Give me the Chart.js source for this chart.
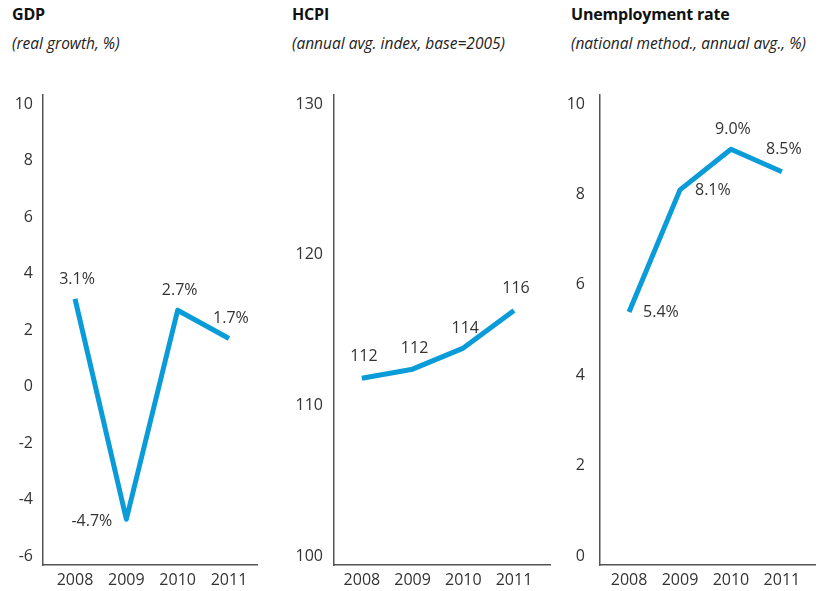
<!DOCTYPE html>
<html>
<head>
<meta charset="utf-8">
<script src="https://cdn.jsdelivr.net/npm/chart.js@4/dist/chart.umd.min.js"></script>
<style>
  html, body { margin: 0; padding: 0; background: #fff; }
  #page { position: relative; width: 825px; height: 591px; overflow: hidden; font-family: "Open Sans", sans-serif; }
  .title { position: absolute; top: 3px; font-size: 16px; font-weight: 700; color: #111; white-space: nowrap; letter-spacing: -0.2px; }
  .sub { position: absolute; top: 32px; font-size: 15.5px; font-style: italic; color: #222; white-space: nowrap; }
  .panel { position: absolute; top: 80px; height: 511px; }
</style>
</head>
<body>
<div id="page">
  <div class="title" style="left:12px">GDP</div>
  <div class="sub" style="left:12px">(real growth, %)</div>
  <div class="title" style="left:292px">HCPI</div>
  <div class="sub" style="left:292px">(annual avg. index, base=2005)</div>
  <div class="title" style="left:571px">Unemployment rate</div>
  <div class="sub" style="left:571px">(national method., annual avg., %)</div>

  <div class="panel" style="left:0px;width:275px"><canvas id="gdpChart"></canvas></div>
  <div class="panel" style="left:280px;width:280px"><canvas id="hcpiChart"></canvas></div>
  <div class="panel" style="left:560px;width:265px"><canvas id="unempChart"></canvas></div>
</div>

<script>
const years = [2008, 2009, 2010, 2011];

const gdpGrowth = [3.1, -4.7, 2.7, 1.7];
const hcpiIndex = [111.8, 112.4, 113.8, 116.3];
const unemployment = [5.4, 8.1, 9.0, 8.5];

const gdpTicks = [-6, -4, -2, 0, 2, 4, 6, 8, 10];
const hcpiTicks = [100, 110, 120, 130];
const unempTicks = [0, 2, 4, 6, 8, 10];

const LINE_COLOR = "#0a9bd9";
const AXIS_COLOR = "#555";
const TEXT_COLOR = "#333";
const FONT = { family: "'Open Sans', sans-serif", size: 16 };

// value labels next to each point; side says where the text sits
const pointLabels = {
  id: "pointLabels",
  afterDatasetsDraw(chart, args, opts) {
    const { ctx } = chart;
    const meta = chart.getDatasetMeta(0);
    const values = chart.data.datasets[0].data;
    ctx.save();
    ctx.font = `${FONT.size}px ${FONT.family}`;
    ctx.fillStyle = TEXT_COLOR;
    ctx.textBaseline = "middle";
    meta.data.forEach((pt, i) => {
      const side = opts.sides[i];
      const text = opts.format(values[i].y);
      const gap = opts.gaps[i];
      if (side === "left") {
        ctx.textAlign = "right";
        ctx.fillText(text, pt.x - gap, pt.y + 2);
      } else if (side === "right") {
        ctx.textAlign = "left";
        ctx.fillText(text, pt.x + gap, pt.y + 1);
      } else {
        ctx.textAlign = "center";
        ctx.fillText(text, pt.x + 2, pt.y - gap);
      }
    });
    ctx.restore();
  }
};

function makePanel(canvasId, values, cfg) {
  const data = years.map((year, i) => ({ x: year, y: values[i] }));

  return new Chart(document.getElementById(canvasId), {
    type: "line",
    data: {
      datasets: [{
        data,
        borderColor: LINE_COLOR,
        borderWidth: 5,
        borderJoinStyle: "round",
        borderCapStyle: "butt",
        pointRadius: 0,
        tension: 0
      }]
    },
    options: {
      responsive: true,
      maintainAspectRatio: false,
      animation: false,
      layout: { padding: { top: 15, right: cfg.padRight, left: 0, bottom: 0 } },
      plugins: {
        legend: { display: false },
        tooltip: { enabled: false },
        pointLabels: { sides: cfg.sides, gaps: cfg.gaps, format: cfg.format }
      },
      scales: {
        x: {
          type: "linear",
          min: cfg.xMin,
          max: cfg.xMax,
          afterBuildTicks(scale) {
            scale.ticks = years.map((v) => ({ value: v }));
          },
          afterFit(scale) {
            scale.height = 26;
            scale.paddingLeft = 0;
            scale.paddingRight = 0;
          },
          grid: { color: "transparent", drawTicks: false },
          border: { display: true, color: AXIS_COLOR, width: 1.5 },
          ticks: {
            color: TEXT_COLOR,
            font: FONT,
            padding: 6,
            maxRotation: 0,
            callback: (v) => String(v)
          }
        },
        y: {
          min: cfg.yMin,
          max: cfg.yMax,
          afterBuildTicks(scale) {
            scale.ticks = cfg.yTicks.map((v) => ({ value: v }));
          },
          afterFit(scale) {
            scale.width = cfg.yWidth;
            scale.paddingTop = 0;
            scale.paddingBottom = 0;
          },
          grid: { color: "transparent", drawTicks: false },
          border: { display: true, color: AXIS_COLOR, width: 1.5 },
          ticks: {
            color: TEXT_COLOR,
            font: FONT,
            padding: cfg.tickPad,
            callback: (v) => String(v)
          }
        }
      }
    },
    plugins: [pointLabels]
  });
}

makePanel("gdpChart", gdpGrowth, {
  xMin: 2007.376, xMax: 2011.546,
  yMin: -6.32, yMax: 10.32, yTicks: gdpTicks,
  yWidth: 43, tickPad: 10, padRight: 18,
  sides: ["top", "left", "top", "top"],
  gaps: [19, 14, 20, 20],
  format: (v) => `${v.toFixed(1)}%`
});

makePanel("hcpiChart", hcpiIndex, {
  xMin: 2007.45, xMax: 2011.71,
  yMin: 99.4, yMax: 130.6, yTicks: hcpiTicks,
  yWidth: 54, tickPad: 11, padRight: 10,
  sides: ["top", "top", "top", "top"],
  gaps: [22, 21, 20, 22],
  format: (v) => v.toFixed(0)
});

makePanel("unempChart", unemployment, {
  xMin: 2007.43, xMax: 2011.65,
  yMin: -0.2, yMax: 10.2, yTicks: unempTicks,
  yWidth: 40, tickPad: 15, padRight: 10,
  sides: ["right", "right", "top", "top"],
  gaps: [14, 15, 20, 22],
  format: (v) => `${v.toFixed(1)}%`
});
</script>
</body>
</html>
